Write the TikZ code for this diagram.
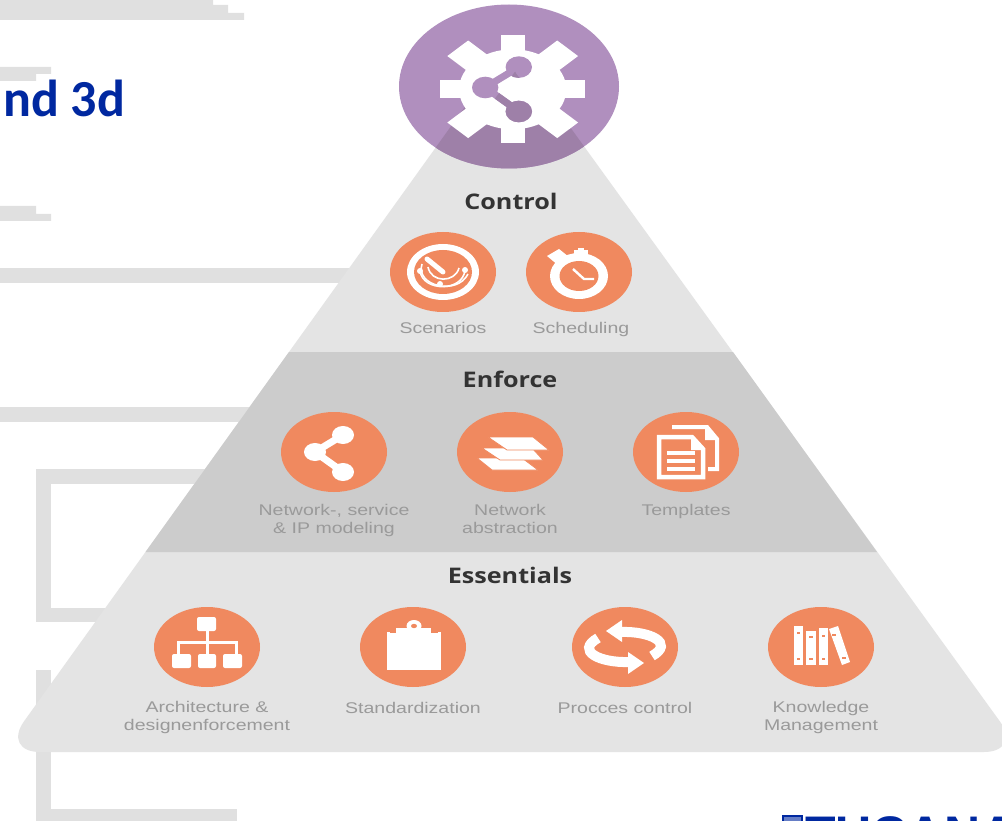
\documentclass[tikz,border=0pt]{standalone}
\usepackage{fontspec}
\usetikzlibrary{shapes.geometric}
\setmainfont{Liberation Sans}
\newfontfamily\labelfont[FakeStretch=1.26]{Liberation Sans}
\newfontfamily\headfont[FakeStretch=1.17]{Open Sans}
\newfontfamily\titlefont{Carlito}
\definecolor{pyrlight}{HTML}{E4E4E4}
\definecolor{pyrmid}{HTML}{CCCCCC}
\definecolor{barbg}{HTML}{E0E0E0}
\definecolor{icbase}{HTML}{F0895F}
\definecolor{gearlight}{HTML}{B08FBE}
\definecolor{geardark}{HTML}{9E80A8}
\definecolor{labelgrey}{HTML}{9A9A9A}
\definecolor{headgrey}{HTML}{333333}
\definecolor{titleblue}{HTML}{0028A0}
\tikzset{
  icondisc/.style={ellipse, fill=icbase, minimum width=106pt, minimum height=80pt, inner sep=0pt},
  iconlabel/.style={text=labelgrey, align=center, inner sep=0pt, font=\labelfont\fontsize{15.5}{18}\selectfont},
  bandhead/.style={text=headgrey, inner sep=0pt, font=\headfont\bfseries\fontsize{21.5}{24}\selectfont}
}
\newcommand{\shareglyph}[1]{%
  \draw[#1, line width=7pt] (9,-17) -- (-19,0) -- (9,20);
  \fill[#1] (9,-17) ellipse (11 and 9);
  \fill[#1] (-19,0) ellipse (11 and 9);
  \fill[#1] (9,20) ellipse (11 and 9);
}
\begin{document}
\begin{tikzpicture}[x=1pt, y=-1pt]
  \clip (0,0) rectangle (1002,821);
  \fill[white] (0,0) rectangle (1002,821);

  % Slide leftovers behind the pyramid
  \fill[barbg] (0,0) -- (213,0) -- (213,5) -- (228,5) -- (228,13) -- (244,13) -- (244,20) -- (0,20) -- cycle;
  \fill[barbg] (0,67) -- (51,67) -- (51,74) -- (36,74) -- (36,81) -- (0,81) -- cycle;
  \fill[barbg] (0,206) -- (36,206) -- (36,214) -- (51,214) -- (51,221) -- (0,221) -- cycle;
  \fill[barbg] (0,268) rectangle (360,283);
  \fill[barbg] (0,407) rectangle (250,422);
  \fill[barbg] (36,469) rectangle (210,484);
  \fill[barbg] (36,469) rectangle (51,622);
  \fill[barbg] (36,608) rectangle (110,622);
  \fill[barbg] (36,670) rectangle (51,821);
  \fill[barbg] (36,809) rectangle (237,821);

  % Slide title and logo
  \node[anchor=base west, inner sep=0pt, text=titleblue, font=\titlefont\bfseries\fontsize{52}{52}\selectfont] (title) at (3,117) {nd 3d};
  \draw[titleblue, line width=1.5pt, fill=titleblue!60] (783,816) rectangle (802,830);
  \node[anchor=base west, inner sep=0pt, text=titleblue, font=\bfseries\fontsize{50}{50}\selectfont] (logo) at (805,851) {TUCANA};

  % Pyramid bands
  \fill[pyrlight, rounded corners=38pt] (510,44) -- (1022,752) -- (2,752) -- cycle;
  \fill[pyrmid] (289,352) -- (733,352) -- (877,552) -- (145.5,552) -- cycle;

  % Top disc with the gear
  \fill[gearlight] (509,86.5) ellipse (110 and 82);
  \begin{scope}
    \clip (510,44) -- (1022,752) -- (2,752) -- cycle;
    \fill[geardark] (509,86.5) ellipse (110 and 82);
  \end{scope}
  \begin{scope}[shift={(512.7,89.3)}, xscale=1.34]
    \fill[white] (0,0) circle (40);
    \foreach \ang in {0,90,180,270} {
      \fill[white, rotate=\ang] (-9,38) rectangle (9,54);
    }
    \foreach \ang in {45,135,225,315} {
      \fill[white, rotate=\ang] (-11,38) rectangle (11,58);
    }
  \end{scope}
  \begin{scope}[shift={(508,87.5)}, scale=1.2]
    \shareglyph{gearlight}
  \end{scope}
  \begin{scope}
    \clip (515,72) -- (1022,752) -- (2,752) -- cycle;
    \begin{scope}[shift={(508,87.5)}, scale=1.2]
      \shareglyph{geardark}
    \end{scope}
  \end{scope}

  % Band headings
  \node[bandhead] (control) at (511,201) {Control};
  \node[bandhead] (enforce) at (510,379) {Enforce};
  \node[bandhead] (essentials) at (510,575) {Essentials};

  % Icon discs
  \node[icondisc] (scen) at (443,272) {};
  \node[icondisc] (sched) at (579,272) {};
  \node[icondisc] (model) at (334,452) {};
  \node[icondisc] (abstr) at (510,452) {};
  \node[icondisc] (templ) at (686,452) {};
  \node[icondisc] (arch) at (207,647) {};
  \node[icondisc] (stand) at (413,647) {};
  \node[icondisc] (proc) at (625,647) {};
  \node[icondisc] (know) at (821,647) {};

  % Icon labels
  \node[iconlabel] (scenl) at (443,328) {Scenarios};
  \node[iconlabel] (schedl) at (581,329) {Scheduling};
  \node[iconlabel] (modell) at (334,520) {Network-, service\\\& IP modeling};
  \node[iconlabel] (abstrl) at (510,519) {Network\\abstraction};
  \node[iconlabel] (templl) at (686,511) {Templates};
  \node[iconlabel] (archl) at (207,717) {Architecture \&\\designenforcement};
  \node[iconlabel] (standl) at (413,708) {Standardization};
  \node[iconlabel] (procl) at (625,708) {Procces control};
  \node[iconlabel] (knowl) at (821,717) {Knowledge\\Management};

  % Scenarios glyph
  \begin{scope}[shift={(scen.center)}]
    \fill[white] (0,0) ellipse (36 and 28);
    \fill[icbase] (0,0) ellipse (29 and 22);
    \draw[white, line width=1.6pt] (-23,-1) .. controls (-20,20) and (20,20) .. (22,-2);
    \draw[white, line width=1.6pt] (-15,-5) .. controls (-12,11) and (12,11) .. (16,-4);
    \draw[white, line width=1.6pt] (-21,-8) .. controls (-28,14) and (14,24) .. (25,2);
    \draw[white, line width=5pt, line cap=round] (-16,-13) -- (0,0);
    \fill[white] (-23,-1) circle (3);
    \fill[white] (-3,12) circle (3);
    \fill[white] (22,-2) circle (3);
  \end{scope}

  % Scheduling glyph
  \begin{scope}[shift={(sched.center)}]
    \fill[white] (0,4) ellipse (29 and 23);
    \fill[icbase] (0,4) ellipse (19.5 and 15);
    \fill[white] (-5,-22) rectangle (9,-16);
    \fill[white] (-1,-24) rectangle (5,-16);
    \fill[white] (-32,-16) -- (-20,-23) -- (-10,-15) -- (-20,-6) -- cycle;
    \draw[white, line width=2.4pt] (-6,-3) -- (5,7) -- (15,7);
  \end{scope}

  % Modeling glyph
  \begin{scope}[shift={(model.center)}]
    \shareglyph{white}
  \end{scope}

  % Abstraction glyph
  \begin{scope}[shift={(abstr.center)}]
    \filldraw[white, draw=icbase, line width=0.8pt] (-33,6) -- (12,6) -- (28,18) -- (-18,18) -- cycle;
    \filldraw[white, draw=icbase, line width=0.8pt] (-28,-4) -- (22,-4) -- (33,8) -- (-10,8) -- cycle;
    \filldraw[white, draw=icbase, line width=0.8pt] (-22,-15) -- (23,-15) -- (39,-2) -- (-3,-2) -- cycle;
  \end{scope}

  % Templates glyph
  \begin{scope}[shift={(templ.center)}]
    \draw[white, line width=4pt] (-14,-25) -- (21,-25) -- (31,-13) -- (31,17) -- (22,17);
    \fill[white] (19,-27) -- (33,-12) -- (19,-12) -- cycle;
    \filldraw[icbase, draw=white, line width=4.5pt] (-27,-15) -- (6,-15) -- (17,-3) -- (17,25) -- (-27,25) -- cycle;
    \fill[white] (5,-17) -- (19,-2) -- (5,-2) -- cycle;
    \foreach \liney in {1,9,17} {
      \draw[white, line width=3.2pt] (-19,\liney) -- (9,\liney);
    }
  \end{scope}

  % Architecture glyph
  \begin{scope}[shift={(arch.center)}]
    \draw[white, line width=3pt] (0,-16) -- (0,7);
    \draw[white, line width=3pt] (-29,7) -- (-29,-5) -- (29,-5) -- (29,7);
    \fill[white, rounded corners=2pt] (-10,-30) rectangle (9,-16);
    \fill[white, rounded corners=2pt] (-35,7) rectangle (-16,21);
    \fill[white, rounded corners=2pt] (-9,7) rectangle (9,21);
    \fill[white, rounded corners=2pt] (16,7) rectangle (35,21);
  \end{scope}

  % Standardization glyph
  \begin{scope}[shift={(stand.center)}]
    \fill[white] (-26,-15) rectangle (28,23);
    \fill[white] (-17,-19) rectangle (18,-14);
    \draw[icbase, line width=0.8pt] (-23,-15) -- (-17,-15);
    \draw[icbase, line width=0.8pt] (18,-15) -- (25,-15);
    \fill[white] (1,-21) ellipse (7.5 and 6);
    \fill[icbase] (1,-21) ellipse (3 and 2.2);
  \end{scope}

  % Process glyph
  \begin{scope}[shift={(proc.center)}]
    \foreach \rot in {0,180} {
      \begin{scope}[rotate=\rot]
        \draw[white, line width=10pt] (-4,-15) .. controls (25,-16) and (50,-4) .. (27,9);
        \fill[white] (-19,-16) -- (-3,-27) -- (-3,-5) -- cycle;
      \end{scope}
    }
  \end{scope}

  % Knowledge glyph
  \begin{scope}[shift={(know.center)}]
    \fill[white] (-27,-21) rectangle (-18,18);
    \fill[white] (-15,-16) rectangle (-5,18);
    \fill[white] (-2,-19) rectangle (7,18);
    \fill[white] (8,-18) -- (17,-21) -- (29,15) -- (21,18) -- cycle;
    \foreach \markx/\marky in {-22.5/-14, -22.5/12, -10/-10, -10/12, 2.5/-11, 2.5/12, 13/-12, 23/11} {
      \fill[icbase] (\markx-1.6,\marky-1) rectangle (\markx+1.6,\marky+1);
    }
  \end{scope}
\end{tikzpicture}
\end{document}
